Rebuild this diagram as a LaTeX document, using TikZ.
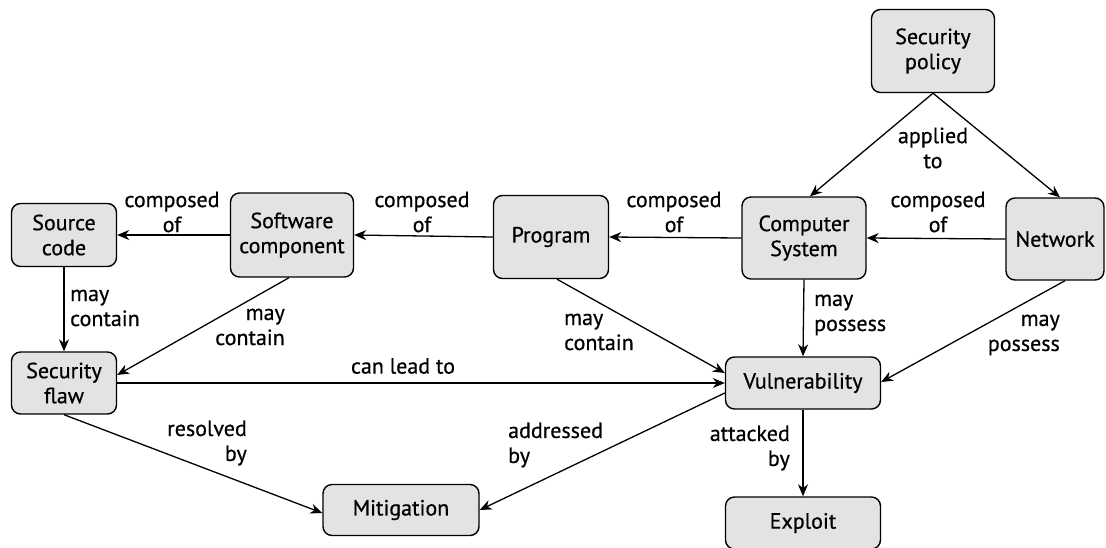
\documentclass[tikz,border=0pt]{standalone}
\usepackage{fontspec}
\setmainfont[FakeBold=0.6]{PT Sans}
\usetikzlibrary{arrows.meta,calc}
\begin{document}
\begin{tikzpicture}[x=1pt,y=-1pt,
  every node/.style={font=\fontsize{22}{25}\selectfont},
  concept/.style={draw, line width=1.4pt, rounded corners=9pt, fill=gray!22,
    align=center, inner sep=2pt},
  lbl/.style={inner sep=0pt},
  rel/.style={line width=1.3pt, -{Stealth[length=12pt,width=10pt]}}]
\useasboundingbox (0,0) rectangle (1106,547);

% concepts
\node[concept, minimum width=123pt, minimum height=83pt] (pol)  at (933,51)  {Security\\policy};
\node[concept, minimum width=124pt, minimum height=82pt] (cs)   at (804,238) {Computer\\System};
\node[concept, minimum width=98pt,  minimum height=82pt] (net)  at (1055,239) {Network};
\node[concept, minimum width=105pt, minimum height=63pt] (src)  at (64,235)  {Source\\code};
\node[concept, minimum width=123pt, minimum height=84pt] (sw)   at (292,235) {Software\\component};
\node[concept, minimum width=105pt, minimum height=62pt] (flaw) at (64,383)  {Security\\flaw};
\node[concept, minimum width=115pt, minimum height=83pt] (prog) at (551,237) {Program};
\node[concept, minimum width=155pt, minimum height=52pt] (vul)  at (803,383) {Vulnerability};
\node[concept, minimum width=156pt, minimum height=51pt] (mit)  at (401,510) {Mitigation};
\node[concept, minimum width=155pt, minimum height=52pt] (exp)  at (803,523) {Exploit};

% relations
\draw[rel] (pol.south) -- ([xshift=6pt]cs.north);
\draw[rel] (pol.south) -- ([xshift=5pt]net.north);
\draw[rel] (net.west) -- (cs.east);
\draw[rel] (cs.west) -- (prog.east);
\draw[rel] (prog.west) -- (sw.west -| sw.east);
\draw[rel] (sw.west) -- (src.east);
\draw[rel] (src.south) -- (flaw.north);
\draw[rel] ([xshift=-3pt]sw.south) -- ([yshift=8pt]flaw.east);
\draw[rel] ([xshift=6pt]prog.south) -- ([yshift=10pt]vul.west);
\draw[rel] (cs.south) -- (vul.north);
\draw[rel] ([xshift=10pt]net.south) -- ([yshift=1pt]vul.east);
\draw[rel] (flaw.east) -- (flaw.east -| vul.west);
\draw[rel] (flaw.south) -- ([yshift=-3pt]mit.west);
\draw[rel] ([yshift=-10pt]vul.west) -- (mit.east);
\draw[rel] (vul.south) -- (exp.north);

% relation labels
\node[lbl, align=center] (l1) at (172,212) {composed\\of};
\node[lbl, align=center] (l2) at (422,212) {composed\\of};
\node[lbl, align=center] (l3) at (674,212) {composed\\of};
\node[lbl, align=center] (l4) at (938,212) {composed\\of};
\node[lbl, align=center] (l5) at (933,148) {applied\\to};
\node[lbl, align=left,  anchor=west] (l6)  at (70,308)   {may\\contain};
\node[lbl, align=right, anchor=east] (l7)  at (285,327)  {may\\contain};
\node[lbl, align=left,  anchor=west] (l8)  at (564,332)  {may\\contain};
\node[lbl, align=left,  anchor=west] (l9)  at (814,315)  {may\\possess};
\node[lbl, align=right, anchor=east] (l10) at (1060,335) {may\\possess};
\node[lbl] (l11) at (403,366) {can lead to};
\node[lbl, align=right, anchor=east] (l12) at (247,443) {resolved\\by};
\node[lbl, align=left,  anchor=west] (l13) at (508,445) {addressed\\by};
\node[lbl, align=right, anchor=east] (l14) at (790,448) {attacked\\by};
\end{tikzpicture}
\end{document}
